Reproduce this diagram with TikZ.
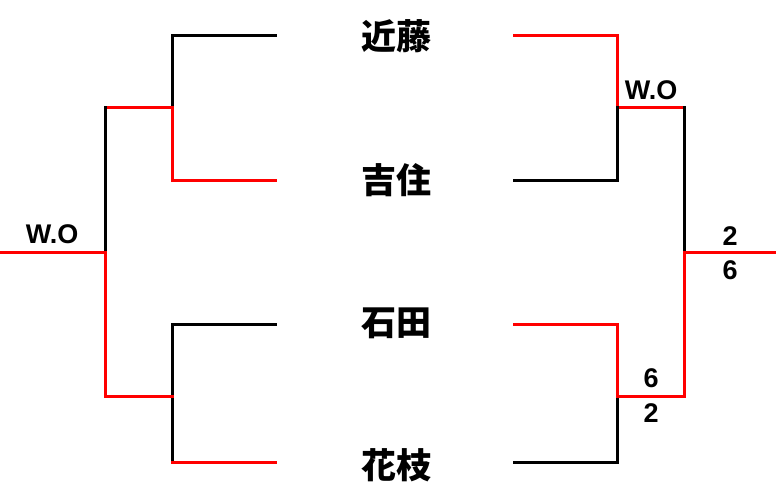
\documentclass[tikz,border=0pt]{standalone}
\usepackage{fontspec}
\newfontfamily\jpfont{Noto Sans CJK JP}
\newfontfamily\scorefont{Liberation Sans}
\usepackage{tikz}

\begin{document}
\begin{tikzpicture}[x=1pt, y=-1pt]
	\tikzset{player/.style = {font=\jpfont\bfseries\fontsize{35}{35}\selectfont, inner sep=0pt}}
	\tikzset{score/.style = {font=\scorefont\bfseries\fontsize{27}{27}\selectfont, inner sep=0pt}}
	\tikzset{win/.style = {draw=red, line width=3pt, line cap=rect}}
	\tikzset{lose/.style = {draw=black, line width=3pt, line cap=rect}}
	\useasboundingbox (0, 0) rectangle (776, 500);
	% players
	\node[player] (kondo) at (396, 36) {近藤};
	\node[player] (yoshizumi) at (396, 180) {吉住};
	\node[player] (ishida) at (396, 323) {石田};
	\node[player] (hanaeda) at (396, 465) {花枝};
	% left bracket
	\coordinate (kondoL) at (275, 36);
	\coordinate (kondoLC) at (172, 36);
	\coordinate (upperL) at (172, 108);
	\coordinate (yoshizumiLC) at (172, 180);
	\coordinate (yoshizumiL) at (275, 180);
	\coordinate (ishidaL) at (275, 324);
	\coordinate (ishidaLC) at (172, 324);
	\coordinate (lowerL) at (172, 396);
	\coordinate (hanaedaLC) at (172, 462);
	\coordinate (hanaedaL) at (275, 462);
	\coordinate (upperLJ) at (105, 108);
	\coordinate (lowerLJ) at (105, 396);
	\coordinate (finalL) at (105, 252);
	\coordinate (leftEnd) at (0, 252);
	% right bracket
	\coordinate (kondoR) at (514, 36);
	\coordinate (kondoRC) at (617, 36);
	\coordinate (upperR) at (617, 108);
	\coordinate (yoshizumiRC) at (617, 180);
	\coordinate (yoshizumiR) at (514, 180);
	\coordinate (ishidaR) at (514, 324);
	\coordinate (ishidaRC) at (617, 324);
	\coordinate (lowerR) at (617, 396);
	\coordinate (hanaedaRC) at (617, 462);
	\coordinate (hanaedaR) at (514, 462);
	\coordinate (upperRJ) at (684, 108);
	\coordinate (lowerRJ) at (684, 396);
	\coordinate (finalR) at (684, 252);
	\coordinate (rightEnd) at (776, 252);
	% scores
	\node[score] (woL) at (52, 234) {W.O};
	\node[score] (woR) at (651, 90) {W.O};
	\node[score] (finalTop) at (730, 236) {2};
	\node[score] (finalBot) at (730, 270) {6};
	\node[score] (lowerTop) at (651, 378) {6};
	\node[score] (lowerBot) at (651, 413) {2};
	% left lines
	\draw[lose] (kondoL) -- (kondoLC) -- (upperL);
	\draw[win] (upperL) -- (yoshizumiLC) -- (yoshizumiL);
	\draw[lose] (ishidaL) -- (ishidaLC) -- (hanaedaLC);
	\draw[win] (hanaedaLC) -- (hanaedaL);
	\draw[win] (upperLJ) -- (upperL);
	\draw[lose] (upperLJ) -- (finalL);
	\draw[win] (finalL) -- (lowerLJ) -- (lowerL);
	\draw[win] (leftEnd) -- (finalL);
	% right lines
	\draw[win] (kondoR) -- (kondoRC) -- (upperR) -- (upperRJ);
	\draw[lose] (yoshizumiR) -- (yoshizumiRC) -- (upperR);
	\draw[lose] (hanaedaR) -- (hanaedaRC) -- (lowerR);
	\draw[win] (ishidaR) -- (ishidaRC) -- (lowerR) -- (lowerRJ) -- (finalR);
	\draw[lose] (upperRJ) -- (finalR);
	\draw[win] (finalR) -- (rightEnd);
\end{tikzpicture}
\end{document}
